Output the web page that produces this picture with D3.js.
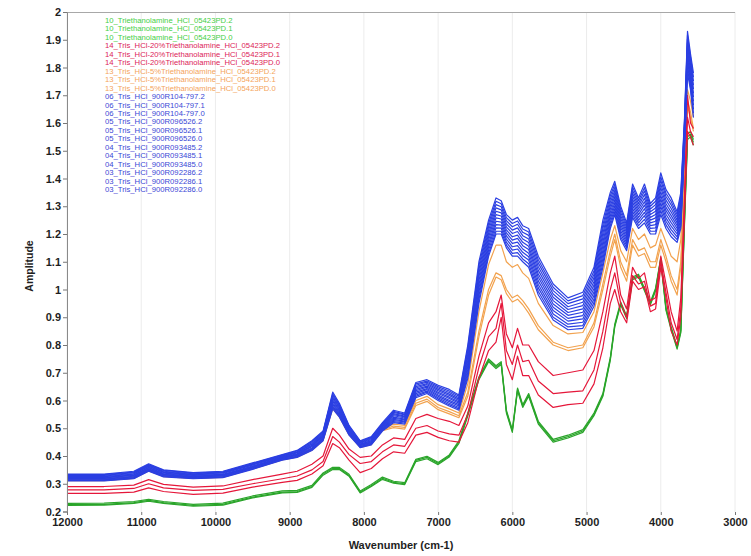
<!DOCTYPE html>
<html>
<head>
<meta charset="utf-8">
<script src="https://cdn.jsdelivr.net/npm/d3@7"></script>
<style>
  body { margin: 0; background: #fff; }
  svg { display: block; font-family: "Liberation Sans", Arial, sans-serif; }
  .axis text { font-size: 11px; font-weight: bold; fill: #1e1e1e; }
  .legend text { font-size: 7.7px; }
</style>
</head>
<body>
<div id="chart"></div>
<script>
// x values shared by every spectrum (cm-1)
const WAVENUMBERS = [12000, 11500, 11100, 10900, 10700, 10300, 9900, 9500, 9100, 8900,
    8700, 8550, 8420, 8330, 8200, 8050, 7900, 7750, 7600, 7450,
    7300, 7150, 7000, 6850, 6720, 6600, 6450, 6320, 6220, 6150,
    6080, 6000, 5930, 5860, 5780, 5650, 5450, 5250, 5050, 4900,
    4780, 4680, 4620, 4540, 4460, 4380, 4300, 4220, 4140, 4070,
    4000, 3930, 3860, 3780, 3730, 3680, 3640, 3600, 3560];

const X_TICKS = [12000, 11000, 10000, 9000, 8000, 7000, 6000, 5000, 4000, 3000];
const Y_TICKS = [0.2, 0.3, 0.4, 0.5, 0.6, 0.7, 0.8, 0.9, 1, 1.1, 1.2, 1.3, 1.4, 1.5, 1.6, 1.7, 1.8, 1.9, 2];

// 10_ triethanolamine (green)
const tea_pd2 = [0.225,0.226,0.232,0.24,0.232,0.222,0.226,0.252,0.27,0.272,0.29,0.335,0.355,0.355,0.33,0.27,0.293,0.32,0.305,0.30,0.384,0.395,0.373,0.40,0.45,0.55,0.68,0.745,0.72,0.735,0.56,0.49,0.64,0.58,0.62,0.52,0.455,0.47,0.49,0.55,0.62,0.75,0.87,0.95,0.90,1.04,1.05,1.0,0.95,1.0,1.11,0.93,0.86,0.79,0.85,1.25,1.55,1.56,1.53];
const tea_pd1 = [0.222,0.223,0.229,0.237,0.229,0.219,0.223,0.249,0.267,0.269,0.287,0.331,0.351,0.351,0.327,0.267,0.29,0.316,0.302,0.297,0.38,0.39,0.369,0.396,0.445,0.545,0.675,0.74,0.715,0.73,0.555,0.485,0.635,0.575,0.615,0.515,0.45,0.465,0.485,0.545,0.615,0.745,0.865,0.945,0.895,1.035,1.045,0.995,0.945,0.995,1.105,0.925,0.855,0.785,0.845,1.24,1.54,1.55,1.52];
const tea_pd0 = [0.229,0.23,0.236,0.244,0.236,0.226,0.23,0.256,0.274,0.276,0.294,0.339,0.359,0.359,0.334,0.274,0.297,0.324,0.309,0.304,0.388,0.399,0.377,0.404,0.455,0.555,0.685,0.75,0.725,0.74,0.565,0.495,0.645,0.585,0.625,0.525,0.46,0.475,0.495,0.555,0.625,0.755,0.875,0.955,0.905,1.045,1.055,1.005,0.955,1.005,1.115,0.935,0.865,0.795,0.855,1.26,1.56,1.57,1.54];

// 14_ tris + 20% triethanolamine (red)
const tris20_pd2 = [0.29,0.29,0.295,0.315,0.298,0.288,0.292,0.315,0.335,0.345,0.37,0.40,0.50,0.475,0.425,0.395,0.40,0.44,0.465,0.46,0.535,0.55,0.535,0.525,0.51,0.58,0.76,0.88,0.92,0.98,0.84,0.79,0.86,0.80,0.80,0.74,0.69,0.70,0.71,0.78,0.92,1.06,1.12,0.98,0.93,1.08,1.04,1.06,0.96,0.97,1.12,1.02,0.92,0.85,0.97,1.33,1.70,1.60,1.58];
const tris20_pd1 = [0.278,0.278,0.283,0.30,0.285,0.276,0.28,0.30,0.318,0.328,0.35,0.38,0.47,0.45,0.405,0.373,0.38,0.415,0.44,0.435,0.50,0.51,0.49,0.48,0.475,0.55,0.72,0.83,0.86,0.95,0.78,0.73,0.80,0.74,0.745,0.67,0.625,0.63,0.635,0.71,0.85,1.0,1.06,0.95,0.90,1.05,1.02,1.03,0.94,0.95,1.10,0.99,0.88,0.82,0.93,1.30,1.62,1.57,1.55];
const tris20_pd0 = [0.265,0.265,0.27,0.285,0.272,0.262,0.266,0.288,0.305,0.312,0.335,0.365,0.445,0.43,0.385,0.34,0.355,0.39,0.415,0.41,0.475,0.485,0.467,0.455,0.45,0.52,0.68,0.78,0.81,0.90,0.73,0.675,0.76,0.69,0.69,0.62,0.575,0.585,0.59,0.66,0.79,0.95,1.0,0.92,0.88,1.03,1.0,1.01,0.92,0.93,1.08,0.97,0.85,0.80,0.90,1.28,1.57,1.55,1.52];

// 13_ tris + 5% triethanolamine (orange), hidden under the blue band at high wavenumber
const tris5_pd2 = [0.318,0.318,0.326,0.353,0.333,0.326,0.33,0.36,0.393,0.403,0.428,0.463,0.578,0.548,0.483,0.438,0.448,0.498,0.515,0.51,0.60,0.615,0.585,0.57,0.555,0.66,0.92,1.09,1.16,1.16,1.10,1.08,1.09,1.06,1.04,0.95,0.87,0.84,0.845,0.92,1.06,1.18,1.23,1.14,1.10,1.22,1.18,1.20,1.15,1.16,1.22,1.17,1.12,1.10,1.18,1.45,1.72,1.68,1.62];
const tris5_pd1 = [0.314,0.314,0.322,0.349,0.329,0.322,0.326,0.356,0.389,0.399,0.424,0.459,0.574,0.544,0.479,0.434,0.444,0.494,0.508,0.503,0.59,0.605,0.575,0.56,0.545,0.63,0.85,1.0,1.06,1.05,1.0,0.97,0.98,0.96,0.93,0.87,0.81,0.79,0.80,0.88,1.02,1.14,1.20,1.10,1.05,1.18,1.14,1.15,1.10,1.10,1.18,1.12,1.05,1.0,1.10,1.40,1.68,1.64,1.58];
const tris5_pd0 = [0.311,0.311,0.319,0.346,0.326,0.319,0.323,0.353,0.386,0.396,0.421,0.456,0.571,0.541,0.476,0.431,0.441,0.491,0.502,0.497,0.582,0.597,0.567,0.552,0.538,0.615,0.83,0.98,1.045,1.035,0.985,0.955,0.965,0.945,0.915,0.855,0.80,0.78,0.79,0.865,1.0,1.12,1.18,1.08,1.03,1.16,1.12,1.13,1.08,1.08,1.16,1.10,1.03,0.98,1.08,1.38,1.66,1.62,1.57];

// tris HCl 900R samples (blue)
const r104_797_2 = [0.335,0.335,0.345,0.372,0.35,0.34,0.345,0.375,0.405,0.42,0.455,0.49,0.63,0.59,0.51,0.455,0.47,0.52,0.565,0.555,0.665,0.675,0.655,0.64,0.62,0.80,1.10,1.25,1.33,1.32,1.27,1.25,1.26,1.23,1.22,1.12,1.02,0.97,0.99,1.08,1.25,1.35,1.39,1.30,1.24,1.38,1.33,1.38,1.31,1.33,1.42,1.36,1.33,1.28,1.35,1.62,1.93,1.85,1.78];
const r104_797_1 = [0.333,0.333,0.342,0.369,0.348,0.338,0.343,0.373,0.403,0.418,0.452,0.487,0.624,0.585,0.507,0.453,0.467,0.517,0.561,0.551,0.660,0.670,0.650,0.634,0.615,0.789,1.086,1.238,1.318,1.309,1.259,1.238,1.247,1.218,1.207,1.107,1.008,0.959,0.978,1.067,1.234,1.338,1.379,1.289,1.231,1.369,1.32,1.367,1.30,1.318,1.406,1.347,1.317,1.27,1.338,1.609,1.916,1.838,1.765];
const r104_797_0 = [0.330,0.330,0.340,0.367,0.345,0.336,0.341,0.371,0.401,0.415,0.449,0.484,0.619,0.581,0.504,0.450,0.465,0.515,0.557,0.548,0.655,0.666,0.645,0.629,0.610,0.778,1.073,1.226,1.306,1.298,1.248,1.226,1.235,1.206,1.195,1.095,0.996,0.949,0.966,1.055,1.219,1.326,1.368,1.278,1.222,1.358,1.31,1.355,1.29,1.306,1.393,1.335,1.305,1.26,1.326,1.598,1.903,1.826,1.751];
const r096_526_2 = [0.328,0.328,0.337,0.364,0.343,0.334,0.339,0.369,0.400,0.413,0.445,0.480,0.613,0.576,0.500,0.448,0.462,0.512,0.553,0.544,0.650,0.661,0.640,0.623,0.605,0.767,1.059,1.214,1.294,1.287,1.237,1.214,1.222,1.194,1.182,1.082,0.984,0.938,0.954,1.042,1.203,1.314,1.357,1.267,1.213,1.347,1.30,1.342,1.28,1.294,1.379,1.322,1.292,1.25,1.314,1.587,1.889,1.814,1.736];
const r096_526_1 = [0.326,0.326,0.335,0.362,0.341,0.332,0.337,0.367,0.398,0.411,0.442,0.477,0.608,0.572,0.497,0.446,0.459,0.509,0.549,0.541,0.645,0.657,0.635,0.618,0.600,0.756,1.046,1.202,1.282,1.276,1.226,1.202,1.209,1.182,1.169,1.069,0.972,0.928,0.942,1.029,1.188,1.302,1.346,1.256,1.204,1.336,1.29,1.329,1.27,1.282,1.366,1.309,1.279,1.24,1.302,1.576,1.876,1.802,1.722];
const r096_526_0 = [0.323,0.323,0.332,0.359,0.338,0.330,0.334,0.364,0.396,0.408,0.439,0.474,0.602,0.567,0.494,0.443,0.456,0.506,0.545,0.537,0.640,0.652,0.630,0.612,0.595,0.745,1.032,1.19,1.27,1.265,1.215,1.19,1.196,1.17,1.156,1.056,0.96,0.917,0.93,1.016,1.172,1.29,1.335,1.245,1.195,1.325,1.28,1.316,1.26,1.27,1.352,1.296,1.266,1.23,1.29,1.565,1.862,1.79,1.707];
const r093_485_2 = [0.321,0.321,0.330,0.357,0.336,0.328,0.332,0.362,0.394,0.406,0.436,0.471,0.597,0.563,0.491,0.441,0.454,0.504,0.540,0.533,0.635,0.648,0.625,0.607,0.590,0.734,1.018,1.178,1.258,1.254,1.204,1.178,1.184,1.158,1.144,1.044,0.948,0.907,0.918,1.004,1.157,1.278,1.324,1.234,1.186,1.314,1.27,1.304,1.25,1.258,1.338,1.284,1.254,1.22,1.278,1.554,1.848,1.778,1.693];
const r093_485_1 = [0.319,0.319,0.327,0.354,0.334,0.326,0.330,0.360,0.392,0.404,0.433,0.468,0.591,0.558,0.488,0.439,0.451,0.501,0.536,0.530,0.630,0.643,0.620,0.601,0.585,0.723,1.005,1.166,1.246,1.243,1.193,1.166,1.171,1.146,1.131,1.031,0.936,0.896,0.906,0.991,1.141,1.266,1.313,1.223,1.177,1.303,1.26,1.291,1.24,1.246,1.325,1.271,1.241,1.21,1.266,1.543,1.835,1.766,1.678];
const r093_485_0 = [0.317,0.317,0.325,0.352,0.332,0.324,0.328,0.358,0.391,0.402,0.429,0.464,0.586,0.554,0.484,0.437,0.448,0.498,0.532,0.526,0.625,0.639,0.615,0.596,0.580,0.712,0.991,1.154,1.234,1.232,1.182,1.154,1.158,1.134,1.118,1.018,0.924,0.886,0.894,0.978,1.126,1.254,1.302,1.212,1.168,1.292,1.25,1.278,1.23,1.234,1.311,1.258,1.228,1.20,1.254,1.532,1.821,1.754,1.664];
const r092_286_2 = [0.314,0.314,0.322,0.349,0.329,0.322,0.326,0.356,0.389,0.399,0.426,0.461,0.580,0.549,0.481,0.434,0.446,0.496,0.528,0.523,0.620,0.634,0.610,0.590,0.575,0.701,0.978,1.142,1.222,1.221,1.171,1.142,1.146,1.122,1.106,1.006,0.912,0.875,0.882,0.966,1.110,1.242,1.291,1.201,1.159,1.281,1.24,1.266,1.22,1.222,1.298,1.246,1.216,1.19,1.242,1.521,1.808,1.742,1.649];
const r092_286_1 = [0.312,0.312,0.320,0.347,0.327,0.320,0.324,0.354,0.387,0.397,0.423,0.458,0.575,0.545,0.478,0.432,0.443,0.493,0.524,0.519,0.615,0.630,0.605,0.585,0.570,0.690,0.964,1.13,1.21,1.21,1.16,1.13,1.133,1.11,1.093,0.993,0.90,0.865,0.87,0.953,1.095,1.23,1.28,1.19,1.15,1.27,1.23,1.253,1.21,1.21,1.284,1.233,1.203,1.18,1.23,1.51,1.794,1.73,1.635];
const r092_286_0 = [0.310,0.310,0.318,0.345,0.325,0.318,0.322,0.352,0.385,0.395,0.420,0.455,0.570,0.540,0.475,0.430,0.440,0.490,0.520,0.515,0.610,0.625,0.600,0.580,0.565,0.680,0.950,1.12,1.20,1.20,1.15,1.12,1.12,1.10,1.08,0.98,0.89,0.855,0.86,0.94,1.08,1.22,1.27,1.18,1.14,1.26,1.22,1.24,1.20,1.20,1.27,1.22,1.19,1.17,1.22,1.50,1.78,1.72,1.62];

const GREEN = "#2aa52a", RED = "#e5173a", ORANGE = "#f2a24e", BLUE = "#2b3fe2";

// legend order follows the original list; draw order is green, orange, red, blue
const series = [
    { label: "10_Triethanolamine_HCl_05423PD.2", values: tea_pd2, color: GREEN, text: "#45cf45" },
    { label: "10_Triethanolamine_HCl_05423PD.1", values: tea_pd1, color: GREEN, text: "#45cf45" },
    { label: "10_Triethanolamine_HCl_05423PD.0", values: tea_pd0, color: GREEN, text: "#45cf45" },
    { label: "14_Tris_HCl-20%Triethanolamine_HCl_05423PD.2", values: tris20_pd2, color: RED, text: "#dc2358" },
    { label: "14_Tris_HCl-20%Triethanolamine_HCl_05423PD.1", values: tris20_pd1, color: RED, text: "#dc2358" },
    { label: "14_Tris_HCl-20%Triethanolamine_HCl_05423PD.0", values: tris20_pd0, color: RED, text: "#dc2358" },
    { label: "13_Tris_HCl-5%Triethanolamine_HCl_05423PD.2", values: tris5_pd2, color: ORANGE, text: "#f4a45c" },
    { label: "13_Tris_HCl-5%Triethanolamine_HCl_05423PD.1", values: tris5_pd1, color: ORANGE, text: "#f4a45c" },
    { label: "13_Tris_HCl-5%Triethanolamine_HCl_05423PD.0", values: tris5_pd0, color: ORANGE, text: "#f4a45c" },
    { label: "06_Tris_HCl_900R104-797.2", values: r104_797_2, color: BLUE, text: "#3a48d6" },
    { label: "06_Tris_HCl_900R104-797.1", values: r104_797_1, color: BLUE, text: "#3a48d6" },
    { label: "06_Tris_HCl_900R104-797.0", values: r104_797_0, color: BLUE, text: "#3a48d6" },
    { label: "05_Tris_HCl_900R096526.2", values: r096_526_2, color: BLUE, text: "#3a48d6" },
    { label: "05_Tris_HCl_900R096526.1", values: r096_526_1, color: BLUE, text: "#3a48d6" },
    { label: "05_Tris_HCl_900R096526.0", values: r096_526_0, color: BLUE, text: "#3a48d6" },
    { label: "04_Tris_HCl_900R093485.2", values: r093_485_2, color: BLUE, text: "#3a48d6" },
    { label: "04_Tris_HCl_900R093485.1", values: r093_485_1, color: BLUE, text: "#3a48d6" },
    { label: "04_Tris_HCl_900R093485.0", values: r093_485_0, color: BLUE, text: "#3a48d6" },
    { label: "03_Tris_HCl_900R092286.2", values: r092_286_2, color: BLUE, text: "#3a48d6" },
    { label: "03_Tris_HCl_900R092286.1", values: r092_286_1, color: BLUE, text: "#3a48d6" },
    { label: "03_Tris_HCl_900R092286.0", values: r092_286_0, color: BLUE, text: "#3a48d6" },
];
const DRAW_ORDER = [GREEN, ORANGE, RED, BLUE];

const width = 751;
const height = 556;
const plot = { left: 67, right: 735, top: 12, bottom: 512 };

const svg = d3.select("#chart").append("svg")
    .attr("width", width)
    .attr("height", height)
    .attr("viewBox", [0, 0, width, height]);

svg.append("rect").attr("width", width).attr("height", height).attr("fill", "#fff");

const x = d3.scaleLinear().domain([12000, 3000]).range([plot.left, plot.right]);
const y = d3.scaleLinear().domain([0.2, 2]).range([plot.bottom - 0.5, plot.top]);

// faint vertical grid
svg.append("g")
    .selectAll("line")
    .data(X_TICKS)
    .join("line")
    .attr("x1", d => x(d)).attr("x2", d => x(d))
    .attr("y1", plot.top).attr("y2", plot.bottom)
    .attr("stroke", "#ececec")
    .attr("stroke-width", 1);

// top border
svg.append("line")
    .attr("x1", plot.left).attr("x2", plot.right)
    .attr("y1", plot.top + 0.5).attr("y2", plot.top + 0.5)
    .attr("stroke", "#a8a8a8");

const line = d3.line()
    .x((d, i) => x(WAVENUMBERS[i]))
    .y(d => y(d));

const lines = svg.append("g").attr("fill", "none").attr("stroke-width", 1.2).attr("stroke-linejoin", "round");
DRAW_ORDER.forEach(c => {
    lines.selectAll(null)
        .data(series.filter(s => s.color === c))
        .join("path")
        .attr("stroke", d => d.color)
        .attr("d", d => line(d.values));
});

// axes
const yAxis = svg.append("g")
    .attr("class", "axis")
    .attr("transform", `translate(${plot.left},0)`)
    .call(d3.axisLeft(y).tickValues(Y_TICKS).tickSize(4).tickPadding(2)
        .tickFormat(d => String(Math.round(d * 10) / 10)));
yAxis.select(".domain").attr("stroke", "#8a8a8a");
yAxis.selectAll(".tick line").attr("stroke", "#777");

const xAxis = svg.append("g")
    .attr("class", "axis")
    .attr("transform", `translate(0,${plot.bottom})`)
    .call(d3.axisBottom(x).tickValues(X_TICKS).tickSize(3).tickPadding(3).tickFormat(d3.format("d")));
xAxis.select(".domain").remove();
xAxis.selectAll(".tick line").attr("stroke", "#777");

svg.append("text")
    .attr("transform", "translate(33,266) rotate(-90)")
    .attr("text-anchor", "middle")
    .style("font-size", "10.5px")
    .style("font-weight", "bold")
    .attr("fill", "#1e1e1e")
    .text("Amplitude");

svg.append("text")
    .attr("x", 401).attr("y", 549)
    .attr("text-anchor", "middle")
    .style("font-size", "11px")
    .style("font-weight", "bold")
    .attr("fill", "#1e1e1e")
    .text("Wavenumber (cm-1)");

// legend list in the top-left corner
svg.append("g")
    .attr("class", "legend")
    .selectAll("text")
    .data(series)
    .join("text")
    .attr("x", 105)
    .attr("y", (d, i) => 23 + i * 8.45)
    .attr("fill", d => d.text)
    .text(d => d.label);
</script>
</body>
</html>
